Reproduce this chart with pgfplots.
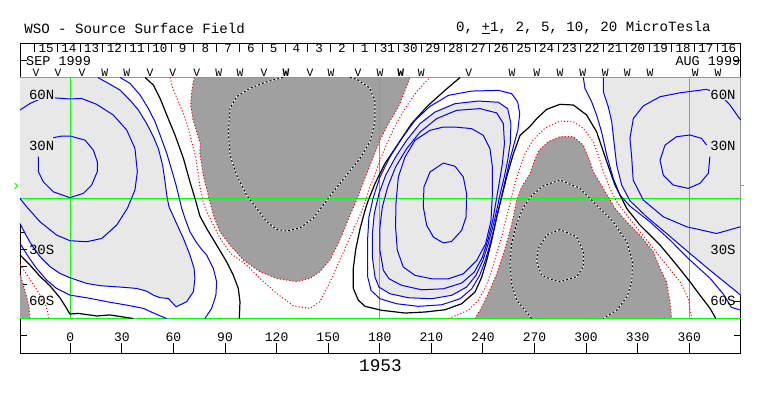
\documentclass[border=0pt]{standalone}
\usepackage{fontspec}
\setmainfont{Liberation Mono}
\usepackage{pgfplots}
\pgfplotsset{compat=1.18}
\definecolor{lgray}{RGB}{232,232,232}
\definecolor{dgray}{RGB}{160,160,160}
\definecolor{wgreen}{RGB}{0,255,0}
\tikzset{
 cpos/.style={blue, line width=0.75pt},
 czer/.style={black, line width=0.9pt},
 cneg/.style={red, line width=0.8pt, dash pattern=on 0.8pt off 1.6pt},
 cng5/.style={black, line width=0.75pt, dash pattern=on 1.5pt off 1.5pt, preaction={draw, white, solid, line width=0.75pt}},
 cgrn/.style={wgreen, line width=0.75pt},
 clab/.style={inner sep=0.6pt, font=\fontsize{10.5}{10.5}\selectfont},
}
\begin{document}
\begin{tikzpicture}
\begin{axis}[
  scale only axis, width=540.5pt, height=232.5pt,
  xmin=-29.25, xmax=389.9, ymin=-90, ymax=90,
  axis line style={line width=0.75pt},
  xtick=\empty,
  ytick={-80,-70,...,80}, yticklabels={},
  tick align=inside, major tick length=5.25pt,
  tick style={line width=0.75pt, black},
  clip=false, unbounded coords=jump, no markers,
  every axis plot/.append style={line join=round},
]
% ---------- fills ----------
\addplot[fill=lgray, draw=none] coordinates {(-29.25,70) (16,70) (22.1,66.6) (28.9,62.7) (34.7,56.9) (39.6,51.1) (44.4,43.3) (48.3,35.6) (51.2,28.8) (53.7,19.1) (55.1,9.4) (56.1,1.7) (57.4,-5.1) (60.9,-12.8) (65.8,-23.5) (69.6,-33.1) (72.0,-40.9) (72.5,-46.7) (71.6,-54.4) (67.7,-60.2) (61.5,-63.2) (57.0,-58.3) (52.2,-57.9) (48.3,-56.4) (44.4,-54.1) (38.6,-52.5) (28.9,-51.7) (17.3,-50.9) (9.5,-49.6) (-0.2,-46.3) (-6,-43.8) (-11.8,-39.9) (-17.6,-34.1) (-22.5,-27.3) (-26.3,-20.6) (-29.25,-14.8)} -- cycle;
\addplot[fill=lgray, draw=none] coordinates {(177.2,-45.9) (175.7,-34.3) (175.7,-20.7) (176.8,-9.1) (179.5,2.5) (183.4,13.2) (189.2,23.8) (195.6,33.5) (203.4,43.2) (212.1,49.9) (223.8,54.8) (237.3,56.3) (249.0,55.6) (254.4,51.9) (256.3,43.2) (255.9,31.6) (254.4,21.9) (252.4,12.2) (250.1,2.5) (248.0,-7.2) (245.7,-16.9) (243.1,-26.5) (240.0,-36.2) (236.0,-44.9) (230.5,-51.7) (221.8,-56.5) (210.2,-58.5) (196.6,-57.9) (185.9,-55.6) (179.5,-51.7)} -- cycle;
\addplot[fill=lgray, draw=none] coordinates {(310,70) (389.9,70) (389.9,-56.5) (387.5,-54.4) (372,-41.9) (360.4,-32.2) (346.8,-20.6) (335.2,-10.9) (325.5,-1.6) (320.7,7.5) (317.8,19.1) (316.2,32.7) (314.9,44.3) (312.9,53) (310,61.7)} -- cycle;
\addplot[fill=dgray, draw=none] coordinates {(72,70) (70.6,61.7) (70.0,54.0) (71.2,46.2) (73.5,38.5) (75.5,31.7) (75.4,25.9) (77.3,13.3) (80.2,1.7) (83.2,-9.9) (87.0,-19.6) (92.9,-27.3) (100.6,-36.0) (110.3,-42.8) (120.0,-46.7) (131.6,-48.6) (139.4,-46.7) (145.2,-42.8) (151.0,-36.0) (154.9,-28.3) (158.8,-19.6) (162.7,-9.9) (166.5,-1.2) (169.5,6.5) (172.4,14.1) (176.2,23.8) (180.1,33.5) (185.0,43.2) (190.8,52.8) (194.7,62.5) (197.6,70)} -- cycle;
\addplot[fill=dgray, draw=none] coordinates {(235.4,-70) (238.3,-65.2) (243.1,-55.6) (248.0,-44.0) (251.9,-32.3) (254.8,-22.7) (257.7,-11.0) (259.6,-1.4) (262.5,6.4) (267.4,14.1) (269.5,20.5) (272.5,27.5) (278.0,32.7) (284.8,35.6) (292.6,35.6) (298.4,30.7) (302.3,21.1) (304.2,15.3) (310.0,5.6) (316.8,-6.0) (323.6,-13.8) (331.3,-21.5) (339.1,-31.2) (343.0,-40.9) (346.8,-48.6) (348.8,-60.2) (349.8,-70)} -- cycle;
\addplot[fill=dgray, draw=none] coordinates {(-29.25,-44) (-27.5,-50) (-25.5,-57) (-24,-63) (-23.5,-70) (-29.25,-70)} -- cycle;
% ---------- green grid ----------
\addplot[cgrn] coordinates {(-29.25,70) (389.9,70)};
\addplot[cgrn] coordinates {(-29.25,0) (389.9,0)};
\addplot[cgrn] coordinates {(-29.25,-70) (389.9,-70)};
\addplot[cgrn] coordinates {(0,-70) (0,70)};
\addplot[cgrn] coordinates {(180,-70) (180,70)};
\addplot[cgrn] coordinates {(360,-70) (360,70)};
\addplot[cgrn] coordinates {(-32.4,8.6) (-30.6,7) (-32.4,5.4)};
\addplot[cgrn] coordinates {(389.9,7) (392,7)};
% ---------- negative contours ----------
\addplot[cneg] coordinates {(72,70) (70.6,61.7) (70.0,54.0) (71.2,46.2) (73.5,38.5) (75.5,31.7) (75.4,25.9) (77.3,13.3) (80.2,1.7) (83.2,-9.9) (87.0,-19.6) (92.9,-27.3) (100.6,-36.0) (110.3,-42.8) (120.0,-46.7) (131.6,-48.6) (139.4,-46.7) (145.2,-42.8) (151.0,-36.0) (154.9,-28.3) (158.8,-19.6) (162.7,-9.9) (166.5,-1.2) (169.5,6.5) (172.4,14.1) (176.2,23.8) (180.1,33.5) (185.0,43.2) (190.8,52.8) (194.7,62.5) (197.6,70)};
\addplot[cneg] coordinates {(58,70) (59.6,63.7) (62.9,55.9) (65.8,49.1) (68.7,40.4) (70.6,32.7) (73.1,23.0) (75.4,6.5) (77.3,-2.2) (79.3,-8.0) (83.2,-15.7) (87.5,-24) (93,-32) (102.5,-38.9) (110.3,-46.7) (120.0,-55.4) (129.7,-62.6) (139.4,-64.1) (145.2,-60.2) (149.1,-52.5) (153.0,-44.7) (156.8,-36.0) (160.7,-27.3) (164.6,-18.6) (168.5,-9.9) (171.4,-2.5) (174.3,6.5) (177.5,14.3) (180.1,22.0) (184.5,32.5) (189.5,43.0) (195.0,52.5) (201.4,61.7) (206.3,67.1) (209.2,70)};
\addplot[cneg] coordinates {(235.4,-70) (238.3,-65.2) (243.1,-55.6) (248.0,-44.0) (251.9,-32.3) (254.8,-22.7) (257.7,-11.0) (259.6,-1.4) (262.5,6.4) (267.4,14.1) (269.5,20.5) (272.5,27.5) (278.0,32.7) (284.8,35.6) (292.6,35.6) (298.4,30.7) (302.3,21.1) (304.2,15.3) (310.0,5.6) (316.8,-6.0) (323.6,-13.8) (331.3,-21.5) (339.1,-31.2) (343.0,-40.9) (346.8,-48.6) (348.8,-60.2) (349.8,-70)};
\addplot[cneg] coordinates {(220,-70) (231.5,-65.2) (237.3,-59.4) (241.6,-51.7) (245.1,-42.0) (248.0,-32.3) (250.9,-22.7) (253.2,-13.0) (255.8,-3.3) (258.1,6.4) (261.0,16.1) (264.5,25.8) (269,33.5) (276,40.5) (284.8,44.7) (292.6,44.3) (298.4,40.4) (304.2,32.7) (307.1,24.9) (310.0,15.3) (313.9,5.6) (317.8,-2.2) (323.6,-9.9) (331.3,-19.6) (339.1,-29.3) (346.8,-39.0) (354.6,-48.6) (359.4,-58.3) (361.4,-70)};
\addplot[cneg] coordinates {(-29.25,-44) (-27.5,-50) (-25.5,-57) (-24,-63) (-23.5,-70)};
\addplot[cneg] coordinates {(-29.25,-38.5) (-25,-45) (-21,-51) (-17,-57) (-14,-63) (-12.4,-70)};
\addplot[cng5] coordinates {(123.7,70) (114.2,67.5) (104.5,63.7) (96.7,58.8) (92.9,52.0) (91.9,38.5) (92.9,24.9) (96.7,13.3) (102.5,1.7) (108.4,-6.0) (114.2,-13.8) (120.0,-18.2) (125.8,-19.2) (133.6,-17.3) (141.3,-11.8) (147.1,-4.1) (153.0,3.6) (160.7,13.3) (168.5,23.0) (174.3,32.7) (177.2,44.3) (177.2,55.9) (174.3,63.7) (166.5,69.1) (162.7,70)};
\addplot[cng5] coordinates {(268.3,-70) (264.5,-65.2) (259.6,-59.4) (256.7,-49.8) (255.7,-38.1) (256.7,-26.5) (259.6,-14.9) (263.5,-5.5) (268.5,1.5) (275.1,7.0) (284.8,10.5) (296.4,5.6) (306.1,-4.1) (315.8,-13.8) (323.6,-25.4) (327.1,-37.0) (326.5,-48.6) (324,-57) (318,-65) (310,-70)};
\addplot[cng5] coordinates {(284.8,-18.3) (277.1,-21.5) (272.2,-29.3) (271.2,-37.0) (274.1,-44.8) (280.9,-47.7) (284.8,-48.6) (294.5,-45.7) (298.4,-39.9) (298.4,-31.2) (294.5,-22.5) (284.8,-18.3)};
% ---------- zero lines ----------
\addplot[czer] coordinates {(43.5,70) (48.3,65.6) (52.2,57.9) (56.1,48.2) (60.9,36.6) (65.8,23.0) (69.6,9.4) (72.5,-0.2) (75.4,-10.5) (79.3,-17.7) (85.1,-27.3) (90.9,-37.0) (94.8,-44.8) (97.7,-52.5) (98.7,-60.2) (98.3,-70)};
\addplot[czer] coordinates {(226.7,70) (217.9,62.5) (208.2,53.8) (198.5,43.2) (190.8,31.6) (183.0,20.0) (177.2,8.3) (173.3,-1.4) (171.4,-7.2) (168.5,-18) (166,-30) (164.6,-40.9) (164.6,-52.5) (167.5,-59.3) (171.4,-62.9) (181.1,-65.2) (194.7,-66.8) (206.3,-66.2) (217.9,-64.9) (227.6,-61.4) (235.4,-54.6) (239.3,-45.9) (242.2,-36.2) (245.1,-24.6) (248.0,-11.0) (250.9,0.6) (253.8,12.2) (257.7,25.7) (261.6,36.4) (267.4,41.6) (271.2,46) (277.1,51.5) (284.8,54.4) (292.6,54.0) (300.3,48.2) (306.1,38.5) (312.0,21.1) (316.8,7.5) (323.6,-6.0) (331.3,-15.7) (343.0,-27.3) (352.7,-38.9) (360.4,-48.6) (366.2,-56.4) (372.1,-64.1) (375.5,-70)};
\addplot[czer] coordinates {(-29.25,-33) (-23.4,-39) (-17.6,-45.5) (-11.8,-51) (-6,-58) (-2.5,-63.5) (-0.2,-67.4) (4.6,-67.0) (15.4,-68.5) (23.1,-67.9) (36.6,-70)};
% ---------- positive contours ----------
\addplot[cpos] coordinates {(16,70) (22.1,66.6) (28.9,62.7) (34.7,56.9) (39.6,51.1) (44.4,43.3) (48.3,35.6) (51.2,28.8) (53.7,19.1) (55.1,9.4) (56.1,1.7) (57.4,-5.1) (60.9,-12.8) (65.8,-23.5) (69.6,-33.1) (72.0,-40.9) (72.5,-46.7) (71.6,-54.4) (67.7,-60.2) (61.5,-63.2) (57.0,-58.3) (52.2,-57.9) (48.3,-56.4) (44.4,-54.1) (38.6,-52.5) (28.9,-51.7) (17.3,-50.9) (9.5,-49.6) (-0.2,-46.3) (-6,-43.8) (-11.8,-39.9) (-17.6,-34.1) (-22.5,-27.3) (-26.3,-20.6) (-29.25,-14.8)};
\addplot[cpos] coordinates {(28.9,70) (34.7,66.6) (40.6,59.8) (45.4,52.0) (49.3,44.3) (52.2,36.6) (56.1,25.9) (59.0,16.2) (61.5,7.5) (63.4,-0.2) (64.8,-6.0) (66.7,-11.8) (69.6,-19.6) (73.1,-25.4) (76.5,-30) (79.3,-33.1) (83.2,-40.9) (85.1,-48.6) (84.7,-56.4) (82.2,-64.1) (78.3,-70)};
\addplot[cpos] coordinates {(-29.25,-26.4) (-24.4,-34.1) (-19.6,-40.9) (-13.7,-47.7) (-8,-52.5) (-0.2,-56.4) (9.5,-57.9) (21.2,-60.2) (32.8,-62.2) (42.5,-64.1) (50.2,-67.6) (56.1,-70)};
\addplot[cpos] coordinates {(-29.25,51.1) (-23.4,54.9) (-16.7,57.9) (-9.9,58.2) (-0.2,57.5) (6.6,57.8) (15.3,54.4) (25.0,48.2) (32.8,39.5) (37.6,28.8) (39.0,15.3) (37.6,4.6) (33.2,-6.0) (27.0,-15.7) (18.3,-23.5) (9.5,-25.4) (-0.2,-24.8) (-8.0,-21.5) (-17.6,-13.8) (-25.4,-5.1) (-29.25,-0.2)};
\addplot[cpos] coordinates {(-9.9,35.0) (-5.0,36.0) (-0.2,36.0) (8.6,33.6) (13.4,27.8) (15.7,21.1) (15.7,15.3) (12.4,7.5) (7.6,2.7) (-0.2,0.2) (-9.9,3.6) (-15.7,9.4) (-18.6,15.3) (-18.6,24.0)};
% middle region: levels 1, 2, 5, 10, 20
\addplot[cpos] coordinates {(173.0,-38.2) (173.0,-22.7) (173.7,-11.0) (176.3,0.6) (180.1,12.2) (185.9,23.8) (192.7,34.5) (200.5,45.1) (209.2,53.2) (219.9,59.6) (233.5,62.1) (249.0,62.5) (256.7,60.6) (260.2,55.8) (261.4,49.0) (260.3,39.3) (257.9,30.6) (255.6,21.9) (253.4,12.2) (251.2,2.5) (249.0,-7.2) (246.7,-16.9) (244.2,-26.5) (241.4,-36.2) (238.1,-44.9) (233.5,-52.7) (226.7,-58.5) (216.0,-62.0) (202.4,-62.9) (189.8,-61.4) (180.1,-58.5) (174.9,-53.6) (173.0,-45.9) (173.0,-38.2)};
\addplot[cpos] coordinates {(177.2,-45.9) (175.7,-34.3) (175.7,-20.7) (176.8,-9.1) (179.5,2.5) (183.4,13.2) (189.2,23.8) (195.6,33.5) (203.4,43.2) (212.1,49.9) (223.8,54.8) (237.3,56.3) (249.0,55.6) (254.4,51.9) (256.3,43.2) (255.9,31.6) (254.4,21.9) (252.4,12.2) (250.1,2.5) (248.0,-7.2) (245.7,-16.9) (243.1,-26.5) (240.0,-36.2) (236.0,-44.9) (230.5,-51.7) (221.8,-56.5) (210.2,-58.5) (196.6,-57.9) (185.9,-55.6) (179.5,-51.7) (177.2,-45.9)};
\addplot[cpos] coordinates {(182.1,-42.0) (180.1,-30.4) (180.1,-16.9) (181.5,-5.2) (184.6,6.4) (189.2,18.0) (195.6,28.6) (203.4,38.3) (213.1,46.1) (224.7,50.9) (238.3,51.9) (248.0,49.4) (251.9,43.2) (252.5,31.6) (251.3,19.9) (249.4,8.3) (247.4,-3.3) (245.7,-13.0) (243.1,-23.6) (239.7,-34.3) (235.0,-43.0) (227.6,-49.4) (217.0,-52.7) (204.4,-53.3) (192.7,-50.7) (185.4,-46.9) (182.1,-42.0)};
\addplot[cpos] coordinates {(223.8,41.2) (233.4,40.3) (240.2,36.4) (244.1,28.6) (245.5,18.0) (245.5,2.5) (244.7,-13.0) (241.6,-26.5) (236.4,-36.2) (228.6,-44.0) (219.9,-46.9) (210.2,-46.9) (200.5,-44.9) (193.7,-40.1) (190.2,-30.4) (189.2,-16.8) (189.4,-3.3) (190.8,12.2) (194.7,23.8) (200.5,33.5) (209.2,39.3) (217.0,41.2) (223.8,41.2)};
\addplot[cpos] coordinates {(217.0,20.3) (223.8,18.4) (228.6,12.2) (230.5,2.5) (230.2,-11.0) (227.6,-18.8) (221.8,-25.2) (217.0,-26.1) (211.2,-22.7) (207.3,-15.9) (205.3,-5.2) (205.7,6.4) (209.2,15.1) (217.0,20.3)};
% right region
\addplot[cpos] coordinates {(310,70) (310,61.7) (312.9,53) (314.9,44.3) (316.2,32.7) (317.8,19.1) (320.7,7.5) (325.5,-1.6) (335.2,-10.9) (346.8,-20.6) (360.4,-32.2) (372,-41.9) (387.5,-54.4) (389.9,-56.5)};
\addplot[cpos] coordinates {(298.4,70) (299.3,63.7) (303.2,55.9) (306.1,48.2) (309.0,38.5) (312.0,24.9) (315.8,11.4) (319.7,1.7) (325.5,-4.7) (337.1,-13.8) (348.8,-24.4) (360.4,-36.0) (372.0,-46.5) (380,-56) (384.5,-63.5) (389.9,-65.1)};
\addplot[cpos] coordinates {(389.9,45.3) (383.7,54.0) (378,60) (370.1,63.1) (354.6,61.1) (343.0,58.8) (333.3,53.5) (327.5,46.2) (325.5,34.6) (326.5,24.0) (327.4,10.4) (333.3,-1.2) (344.9,-10.9) (358.5,-16.7) (375.9,-20.6) (389.9,-16.7)};
\addplot[cpos] coordinates {(372.0,24.0) (371.1,14.3) (366.2,8.5) (359.4,5.6) (350.7,7.5) (344.9,13.3) (343.0,22.0) (345.9,30.7) (352.6,35.6) (360.4,36.6) (367.2,34.6) (370.1,30.7)};
% ---------- frame ticks ----------
\addplot[black, line width=0.75pt] coordinates {(0,-90) (0,-84.2) (0,nan) (30,-90) (30,-84.2) (30,nan) (60,-90) (60,-84.2) (60,nan) (90,-90) (90,-84.2) (90,nan) (120,-90) (120,-84.2) (120,nan) (150,-90) (150,-84.2) (150,nan) (180,-90) (180,-84.2) (180,nan) (210,-90) (210,-84.2) (210,nan) (240,-90) (240,-84.2) (240,nan) (270,-90) (270,-84.2) (270,nan) (300,-90) (300,-84.2) (300,nan) (330,-90) (330,-84.2) (330,nan) (360,-90) (360,-84.2)};
\addplot[black, line width=0.75pt] coordinates {(-20.7,90) (-20.7,84.5) (-20.7,nan) (-7.47,90) (-7.47,84.5) (-7.47,nan) (5.77,90) (5.77,84.5) (5.77,nan) (19.0,90) (19.0,84.5) (19.0,nan) (32.2,90) (32.2,84.5) (32.2,nan) (45.5,90) (45.5,84.5) (45.5,nan) (58.7,90) (58.7,84.5) (58.7,nan) (71.9,90) (71.9,84.5) (71.9,nan) (85.2,90) (85.2,84.5) (85.2,nan) (98.4,90) (98.4,84.5) (98.4,nan) (111.6,90) (111.6,84.5) (111.6,nan) (124.9,90) (124.9,84.5) (124.9,nan) (138.1,90) (138.1,84.5) (138.1,nan) (151.3,90) (151.3,84.5) (151.3,nan) (164.6,90) (164.6,84.5) (164.6,nan) (177.8,90) (177.8,84.5) (177.8,nan) (191.0,90) (191.0,84.5) (191.0,nan) (204.3,90) (204.3,84.5) (204.3,nan) (217.5,90) (217.5,84.5) (217.5,nan) (230.7,90) (230.7,84.5) (230.7,nan) (244.0,90) (244.0,84.5) (244.0,nan) (257.2,90) (257.2,84.5) (257.2,nan) (270.4,90) (270.4,84.5) (270.4,nan) (283.7,90) (283.7,84.5) (283.7,nan) (296.9,90) (296.9,84.5) (296.9,nan) (310.1,90) (310.1,84.5) (310.1,nan) (323.4,90) (323.4,84.5) (323.4,nan) (336.6,90) (336.6,84.5) (336.6,nan) (349.8,90) (349.8,84.5) (349.8,nan) (363.1,90) (363.1,84.5) (363.1,nan) (376.3,90) (376.3,84.5)};
\addplot[draw=none, nodes near coords, point meta=explicit symbolic,
  nodes near coords style={anchor=center, inner sep=0pt, font=\fontsize{9.4}{9.4}\selectfont}]
 coordinates {(-14.1,86.8)[15] (-0.87,86.8)[14] (12.37,86.8)[13] (25.6,86.8)[12] (38.8,86.8)[11] (52.1,86.8)[10] (65.3,86.8)[9] (78.5,86.8)[8] (91.8,86.8)[7] (105.0,86.8)[6] (118.2,86.8)[5] (131.5,86.8)[4] (144.7,86.8)[3] (157.9,86.8)[2] (171.2,86.8)[1] (184.4,86.8)[31] (197.6,86.8)[30] (210.9,86.8)[29] (224.1,86.8)[28] (237.3,86.8)[27] (250.6,86.8)[26] (263.8,86.8)[25] (277.0,86.8)[24] (290.3,86.8)[23] (303.5,86.8)[22] (316.7,86.8)[21] (330.0,86.8)[20] (343.2,86.8)[19] (356.4,86.8)[18] (369.7,86.8)[17] (382.9,86.8)[16]};
\addplot[draw=none, nodes near coords, point meta=explicit symbolic,
  nodes near coords style={anchor=center, inner sep=0pt, font=\fontsize{8.5}{8.5}\selectfont}]
 coordinates {(-19.9,73)[V] (-7.2,73)[V] (6.8,73)[V] (20.0,73)[W] (32.8,73)[W] (46.4,73)[V] (59.6,73)[V] (73.5,73)[V] (86.3,73)[W] (98.7,73)[W] (112.7,73)[V] (125.5,73)[\textbf{W}] (139.4,73)[V] (151.6,73)[W] (167.3,73)[V] (180.1,73)[W] (192.2,73)[\textbf{W}] (204.1,73)[W] (231.7,73)[V] (256.9,73)[W] (271.3,73)[W] (284.8,73)[W] (298.0,73)[W] (311.2,73)[W] (324.0,73)[W] (337.2,73)[W] (363.5,73)[W] (376.7,73)[W]};
\addplot[draw=none, nodes near coords, point meta=explicit symbolic,
  nodes near coords style={anchor=center, inner sep=0pt, font=\fontsize{9.75}{9.75}\selectfont}]
 coordinates {(0,-81)[0] (30,-81)[30] (60,-81)[60] (90,-81)[90] (120,-81)[120] (150,-81)[150] (180,-81)[180] (210,-81)[210] (240,-81)[240] (270,-81)[270] (300,-81)[300] (330,-81)[330] (360,-81)[360]};
% ---------- texts ----------
\node[clab, fill=lgray, anchor=west] at (axis cs:-24.6,60) {60N};
\node[clab, fill=lgray, anchor=west] at (axis cs:-24.6,30) {30N};
\node[clab, anchor=west] at (axis cs:-24.6,-30) {30S};
\node[clab, anchor=west] at (axis cs:-24.6,-60) {60S};
\node[clab, fill=lgray, anchor=east] at (axis cs:387.6,60) {60N};
\node[clab, fill=lgray, anchor=east] at (axis cs:387.6,30) {30N};
\node[clab, fill=lgray, anchor=east] at (axis cs:387.6,-30) {30S};
\node[clab, anchor=east] at (axis cs:387.6,-60) {60S};
\node[inner sep=0pt, anchor=west, font=\fontsize{10.1}{10.1}\selectfont] at (axis cs:-25.8,79.3) {SEP 1999};
\node[inner sep=0pt, anchor=east, font=\fontsize{10.1}{10.1}\selectfont] at (axis cs:389.8,79.3) {AUG 1999};
\node[inner sep=0pt, anchor=west, font=\fontsize{10.6}{10.6}\selectfont] at (axis cs:-26.9,98.7) {WSO - Source Surface Field};
\node[inner sep=0pt, anchor=east, font=\fontsize{10.6}{10.6}\selectfont] at (axis cs:372.6,98.7) {0, \underline{+}1, 2, 5, 10, 20 MicroTesla};
\node[inner sep=0pt, anchor=center, font=\fontsize{13.3}{13.3}\selectfont] at (axis cs:180.4,-97.6) {1953};
\path (axis cs:-40.89,114.98) rectangle (axis cs:402.9,-114.98);
\end{axis}
\end{tikzpicture}
\end{document}
